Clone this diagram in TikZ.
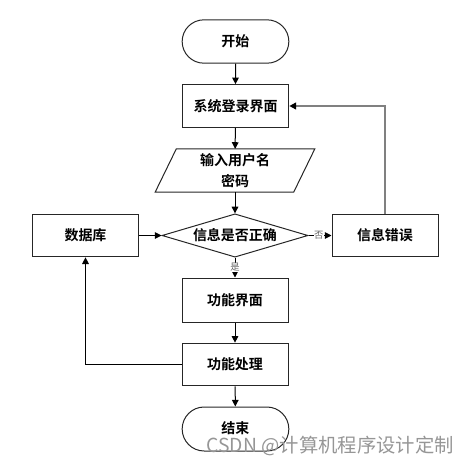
\documentclass[tikz,border=0pt]{standalone}
\usepackage{fontspec}
\setmainfont{Noto Sans CJK SC}[BoldFont={Noto Sans CJK SC Bold}]
\usetikzlibrary{shapes.geometric,shapes.misc,arrows.meta,positioning}
\definecolor{wm}{RGB}{150,150,150}
\definecolor{fb}{RGB}{128,128,128}
\begin{document}
\begin{tikzpicture}[x=0.75pt,y=-0.75pt,
  font=\fontsize{10.5pt}{12pt}\selectfont\bfseries,
  box/.style={draw=black!85,line width=0.75pt,rectangle,minimum width=80pt,minimum height=32pt,inner sep=0pt},
  term/.style={draw=black!85,line width=0.75pt,rounded rectangle,minimum width=80pt,minimum height=32.5pt,inner sep=0pt},
  decide/.style={draw=black!85,line width=0.75pt,diamond,shape aspect=3.4,minimum width=109.5pt,minimum height=32.5pt,inner sep=0pt},
  arr/.style={line width=0.75pt,draw=black,-{Triangle[length=5pt,width=5pt]}},
  garr/.style={line width=1.4pt,draw=fb,-{Triangle[length=5pt,width=5pt,color=black]}},
  lbl/.style={font=\fontsize{7pt}{8pt}\selectfont,text=black!60,fill=white,inner sep=0.5pt}
]
\useasboundingbox (0,0) rectangle (469,465);
\node[term] (start) at (235.5,41.5) {开始};
\node[box] (login) at (235.5,106) {系统登录界面};
\node[minimum width=103.5pt,minimum height=32pt,inner sep=0pt,align=center,font=\fontsize{10.5pt}{15.5pt}\selectfont\bfseries] (input) at (235,170.5) {输入用户名\\密码};
\draw[draw=black!85,line width=0.75pt] ([xshift=7.9pt]input.north west) -- ([xshift=7.9pt]input.north east) -- ([xshift=-7.9pt]input.south east) -- ([xshift=-7.9pt]input.south west) -- cycle;
\node[decide] (dec) at (235,235.5) {信息是否正确};
\node[box] (db) at (85.5,235.5) {数据库};
\node[box,minimum width=79.5pt] (err) at (385,235.5) {信息错误};
\node[box,minimum height=33pt,minimum width=79.5pt] (func) at (235,300) {功能界面};
\node[box,minimum width=79.5pt] (proc) at (235,364.5) {功能处理};
\node[term,minimum height=33pt] (end) at (235.5,429) {\raisebox{2pt}{结束}};

\draw[arr] (start) -- (login);
\draw[arr] (login) -- (input);
\draw[arr] (input) -- (dec);
\draw[arr] (dec.south) -- node[lbl,pos=0.5] {是} (func.north);
\draw[arr] (dec.east) -- node[lbl,pos=0.45] {否} (err.west);
\draw[arr] (db) -- (dec.west);
\draw[arr] (func) -- (proc);
\draw[arr] (proc) -- (end);
\draw[arr] (proc.west) -| (db.south);
\draw[garr] (err.north) |- (login.east);

\node[anchor=east,text=wm,font=\fontsize{14.5pt}{16pt}\selectfont,inner sep=0pt] (wmk) at (454,446) {CSDN @计算机程序设计定制};
\end{tikzpicture}
\end{document}
